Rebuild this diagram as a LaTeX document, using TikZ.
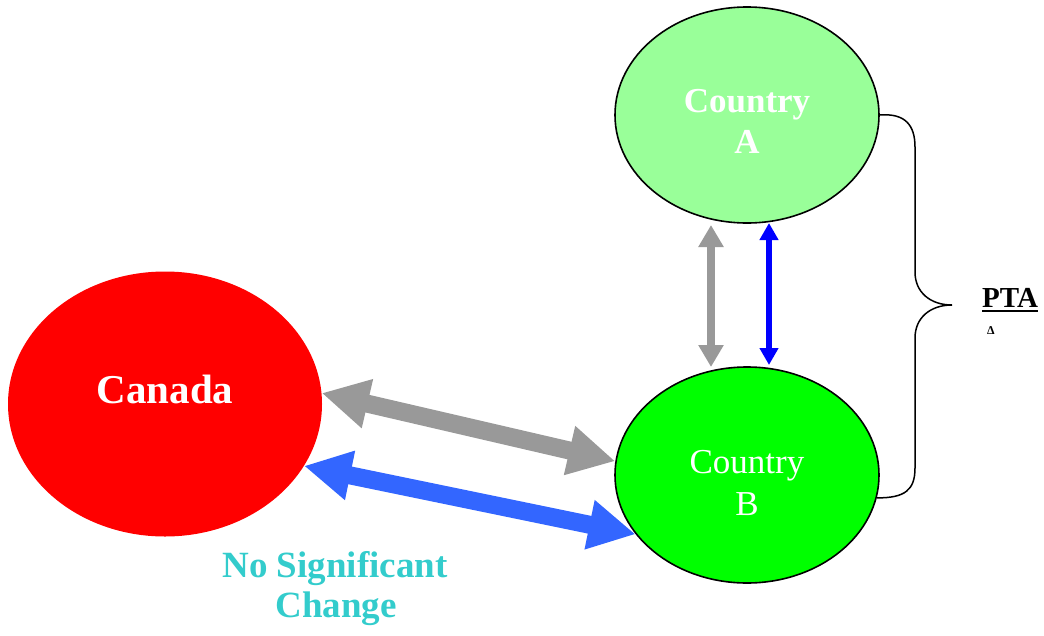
\documentclass[tikz,border=0pt]{standalone}
\usepackage{fontspec}
\setmainfont{Liberation Serif}
\usetikzlibrary{shapes.geometric,arrows.meta}
\definecolor{lightgreen}{HTML}{99FF99}
\definecolor{puregreen}{HTML}{00FF00}
\definecolor{canred}{HTML}{FF0000}
\definecolor{arrgray}{HTML}{999999}
\definecolor{arrblue}{HTML}{3366FF}
\definecolor{vblue}{HTML}{0000FF}
\definecolor{teal}{HTML}{33CCCC}
\tikzset{
  country/.style={ellipse, draw=black, line width=1.6pt, minimum width=264pt, minimum height=216pt, inner sep=0pt},
  label/.style={anchor=base, inner sep=0pt, text=white},
  bigarrow/.style={line width=18pt, {Triangle[length=47pt,width=47pt]}-{Triangle[length=47pt,width=47pt]}},
  grayvert/.style={arrgray, line width=8pt, {Triangle[length=22pt,width=24pt]}-{Triangle[length=22pt,width=24pt]}},
  bluevert/.style={vblue, line width=5.5pt, {Triangle[length=17pt,width=18pt]}-{Triangle[length=17pt,width=18pt]}},
}
\begin{document}
\begin{tikzpicture}[x=1pt,y=-1pt]
\useasboundingbox (0,0) rectangle (1044,635);
% ellipses
\node[country, fill=lightgreen] (a) at (747,115) {};
\node[country, fill=puregreen] (b) at (747,475) {};
\node[ellipse, fill=canred, draw=none, minimum width=314pt, minimum height=265pt, inner sep=0pt] (can) at (165,404) {};
% texts
\node[label, font=\fontsize{35}{42}\selectfont\bfseries] (a1) at (747,112) {Country};
\node[label, font=\fontsize{35}{42}\selectfont\bfseries] (a2) at (747,153) {A};
\node[label, font=\fontsize{35}{42}\selectfont] (b1) at (747,473) {Country};
\node[label, font=\fontsize{35}{42}\selectfont] (b2) at (747,515) {B};
\node[label, font=\fontsize{41}{48}\selectfont\bfseries] (c1) at (165,403) {Canada};
\node[label, text=teal, font=\fontsize{37}{40}\selectfont\bfseries] (n1) at (335,577) {No Significant};
\node[label, text=teal, font=\fontsize{37}{40}\selectfont\bfseries] (n2) at (336,617) {Change};
\node[anchor=base west, inner sep=0pt, font=\fontsize{29}{34}\selectfont\bfseries] (pta) at (982,307) {PTA};
\draw[line width=2.2pt] ([yshift=-4pt]pta.base west) -- ([yshift=-4pt]pta.base east);
\node[anchor=base west, inner sep=0pt, font=\fontsize{12}{14}\selectfont\bfseries] (delta) at (987,334) {Δ};
% diagonal arrows
\draw[bigarrow, arrgray] (can.4) -- (b.174);
\draw[bigarrow, arrblue] (can.-24) -- (b.208);
% vertical arrows
\coordinate (g1) at (711,225);
\coordinate (g2) at (711,367);
\coordinate (v1) at (769,223);
\coordinate (v2) at (769,365);
\draw[grayvert] (g1) -- (g2);
\draw[bluevert] (v1) -- (v2);
% brace
\draw[line width=1.5pt] (a.east) .. controls (905,113) and (915,125) .. (915,147) -- (915,272)
  .. controls (915,292) and (930,305) .. (952,305)
  .. controls (930,305) and (915,318) .. (915,338) -- (915,468)
  .. controls (915,490) and (905,498) .. (b.-10);
\end{tikzpicture}
\end{document}
